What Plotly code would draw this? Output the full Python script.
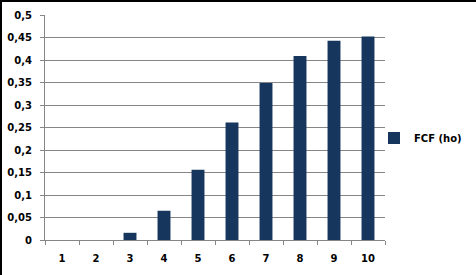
import plotly.graph_objects as go

categories = ["1", "2", "3", "4", "5", "6", "7", "8", "9", "10"]
fcf_ho = [0, 0, 0.016, 0.065, 0.156, 0.261, 0.349, 0.409, 0.443, 0.452]
series_name = "FCF (ho)"

W, H = 476, 275
L, R, T, B = 45, 91, 15, 35
pw, ph = W - L - R, H - T - B

fig = go.Figure()
fig.add_trace(go.Bar(x=categories, y=fcf_ho, name=series_name,
                     marker=dict(color="#17365d", line=dict(width=0))))

font = dict(family="DejaVu Sans", size=10, color="#000000", weight="bold")
fig.update_layout(
    width=W, height=H,
    margin=dict(l=L, r=R, t=T, b=B, autoexpand=False),
    paper_bgcolor="white", plot_bgcolor="white",
    separators=",.",
    bargap=0.62,
    showlegend=True,
    legend=dict(x=(374 - L) / pw, y=(240 - 138) / ph, xanchor="left", yanchor="middle",
                font=dict(family="DejaVu Sans", size=10, color="#000", weight="bold"),
                itemwidth=30, bgcolor="rgba(0,0,0,0)"),
    font=font,
)
fig.update_xaxes(type="category", showline=True, linecolor="#868686", linewidth=1,
                 ticks="outside", tickson="boundaries", ticklen=4, tickcolor="#868686",
                 tickfont=font, showgrid=False, fixedrange=True, ticklabelstandoff=9)
fig.update_yaxes(range=[0, 0.5], dtick=0.05, showline=True, linecolor="#868686", linewidth=1,
                 ticks="outside", ticklen=4, tickcolor="#868686", tickfont=font,
                 showgrid=True, gridcolor="#868686", gridwidth=1, zeroline=False,
                 ticklabelstandoff=6)
# outer border (top and left) of the chart area
fig.add_shape(type="line", xref="paper", yref="paper",
              x0=-L / pw, x1=(W - L) / pw, y0=1 + (T - 1) / ph, y1=1 + (T - 1) / ph,
              line=dict(color="black", width=2))
fig.add_shape(type="line", xref="paper", yref="paper",
              x0=-(L - 1) / pw, x1=-(L - 1) / pw, y0=-B / ph, y1=1 + T / ph,
              line=dict(color="black", width=2))
fig.write_html("out.html")
